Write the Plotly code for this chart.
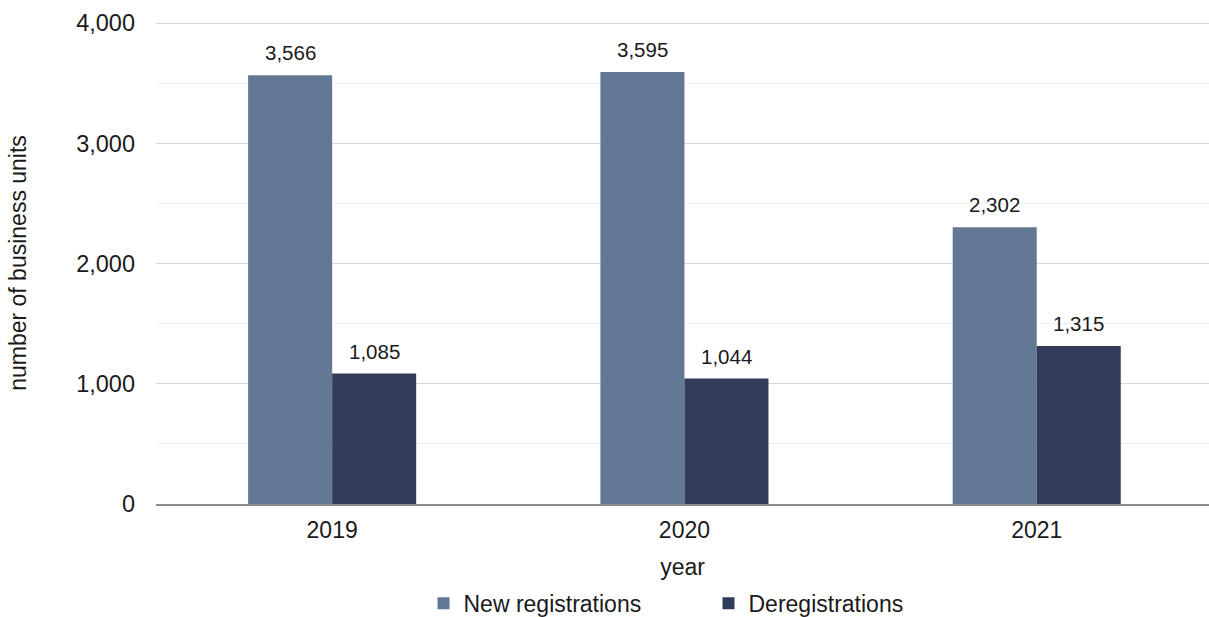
import plotly.graph_objects as go

years = ["2019", "2020", "2021"]
new_registrations = [3566, 3595, 2302]
deregistrations = [1085, 1044, 1315]
y_ticks = [0, 1000, 2000, 3000, 4000]

c_new = "#627894"
c_dereg = "#303c58"
font_family = "Liberation Sans, Arial, sans-serif"

fig = go.Figure()
fig.add_trace(go.Bar(x=years, y=new_registrations, name="New registrations",
                     marker=dict(color=c_new, line=dict(width=0))))
fig.add_trace(go.Bar(x=years, y=deregistrations, name="Deregistrations",
                     marker=dict(color=c_dereg, line=dict(width=0))))

annotations = []
for vals, shift in ((new_registrations, -42), (deregistrations, 42)):
    for i, v in enumerate(vals):
        annotations.append(dict(x=i, y=v, xref="x", yref="y", text=f"{v:,}",
                                showarrow=False, xshift=shift, yshift=9,
                                yanchor="bottom", xanchor="center",
                                font=dict(size=20.5, color="#1a1a1a", family=font_family)))

fig.update_layout(
    width=1209, height=617,
    margin=dict(l=156, r=0, t=22, b=113, autoexpand=False),
    paper_bgcolor="white", plot_bgcolor="white",
    barmode="group", bargap=0.523, bargroupgap=0,
    font=dict(family=font_family, size=23, color="#1a1a1a"),
    annotations=annotations,
    legend=dict(orientation="h", x=0.5247, xanchor="center", y=-0.206, yanchor="middle",
                font=dict(size=23), entrywidth=240, itemwidth=30),
    xaxis=dict(type="category", range=[-0.5, 2.489], showline=True, automargin=False,
               linecolor="#8c8c8c", linewidth=1.5, ticks="", showgrid=False,
               ticklabelstandoff=5,
               title=dict(text="year", standoff=17, font=dict(size=23)),
               tickfont=dict(size=23)),
    yaxis=dict(range=[0, 4010], tickvals=y_ticks, tickformat=",", showgrid=True,
               automargin=False,
               gridcolor="#d9d9d9", gridwidth=1.3, zeroline=False,
               minor=dict(dtick=500, showgrid=True, gridcolor="#f0f0f0", gridwidth=1.3),
               ticklabelstandoff=20, tickfont=dict(size=23.5),
               title=dict(text="number of business units", standoff=43, font=dict(size=23))),
)

fig.write_html("out.html", config={"displayModeBar": False},
               post_script="document.body.style.margin='0px';document.body.style.overflow='hidden';")
